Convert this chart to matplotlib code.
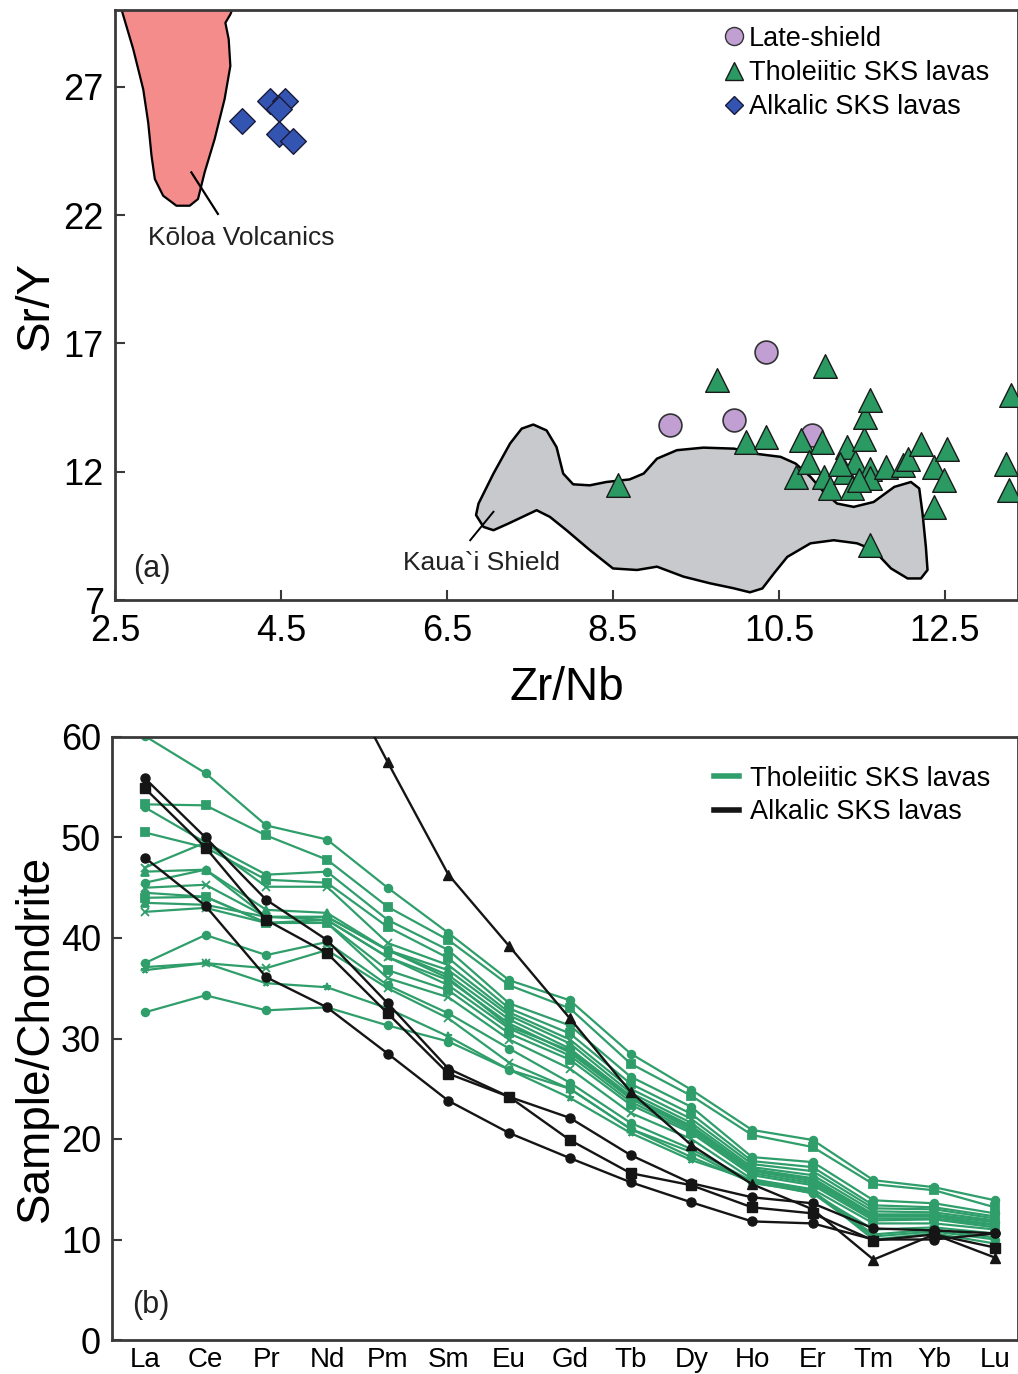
#!/usr/bin/env python3
# Sr/Y vs Zr/Nb (a) and REE patterns normalised to chondrite (b)
import matplotlib
matplotlib.use('Agg')
import matplotlib.pyplot as plt
from matplotlib.patches import Polygon
from matplotlib.lines import Line2D

plt.rcParams['font.family'] = ['Liberation Sans', 'DejaVu Sans']

# ---- panel (a) data ----
late_x = [10.34, 9.19, 9.96, 10.90]
late_y = [16.66, 13.84, 14.00, 13.42]

thol_x = [8.56, 9.75, 11.06, 10.10, 10.34, 10.76, 11.02, 10.70, 10.86, 11.04, 11.12,
          11.32, 11.30, 11.38, 11.42, 11.52, 11.54, 11.60, 11.60, 11.60, 11.79, 11.99,
          12.05, 12.21, 12.37, 12.53, 12.49, 12.37, 11.60, 13.29, 13.23, 13.27, 11.24,
          11.46]
thol_y = [11.47, 15.56, 16.14, 13.16, 13.36, 13.23, 13.16, 11.80, 12.38, 11.80, 11.35,
          12.97, 12.00, 11.35, 12.38, 13.29, 14.13, 14.78, 12.12, 11.74, 12.19, 12.25,
          12.51, 13.10, 12.19, 12.90, 11.67, 10.63, 9.14, 14.98, 12.32, 11.28, 12.32,
          11.67]

alk_x = [4.03, 4.37, 4.55, 4.47, 4.47, 4.65]
alk_y = [25.68, 26.46, 26.46, 26.13, 25.16, 24.90]

koloa_x = [2.58, 2.72, 2.84, 2.90, 2.94, 2.98, 3.08, 3.24, 3.40, 3.50, 3.58, 3.70,
           3.82, 3.89, 3.87, 3.83, 3.89, 3.91]
koloa_y = [30.0, 28.47, 26.91, 25.61, 24.32, 23.41, 22.76, 22.37, 22.37, 22.63, 23.67,
           24.96, 26.52, 27.82, 28.86, 29.50, 29.83, 30.0]

kauai_x = [6.85, 6.88, 7.06, 7.26, 7.40, 7.54, 7.70, 7.82, 7.90, 8.02, 8.22, 8.42,
           8.70, 8.87, 9.03, 9.27, 9.59, 9.96, 10.20, 10.52, 10.70, 10.88, 11.04, 11.20,
           11.40, 11.64, 11.89, 12.09, 12.19, 12.23, 12.27, 12.29, 12.21, 12.05, 11.85,
           11.64, 11.44, 11.16, 10.88, 10.60, 10.44, 10.30, 10.15, 9.95, 9.67, 9.35,
           9.03, 8.79, 8.50, 8.22, 7.94, 7.74, 7.58, 7.24, 7.06, 6.94]
kauai_y = [10.31, 10.76, 11.93, 13.10, 13.68, 13.84, 13.61, 12.96, 11.93, 11.51, 11.47,
           11.60, 11.70, 11.93, 12.51, 12.84, 12.94, 12.90, 12.71, 12.58, 12.32, 11.80,
           11.21, 10.76, 10.63, 10.82, 11.41, 11.60, 11.35, 10.37, 9.07, 8.17, 7.84,
           7.84, 8.23, 8.95, 9.21, 9.33, 9.21, 8.68, 8.04, 7.45, 7.30, 7.46, 7.65, 7.91,
           8.30, 8.17, 8.23, 8.95, 9.72, 10.24, 10.50, 9.98, 9.72, 9.85]

# ---- panel (b) data ----
ree = ['La', 'Ce', 'Pr', 'Nd', 'Pm', 'Sm', 'Eu', 'Gd', 'Tb', 'Dy', 'Ho', 'Er', 'Tm', 'Yb', 'Lu']

thol_ree = [
    [60.1, 56.4, 51.2, 49.8, 45.0, 40.5, 35.8, 33.8, 28.5, 24.9, 20.9, 19.9, 15.9, 15.2, 13.9],
    [53.3, 53.2, 50.2, 47.8, 43.1, 39.8, 35.3, 33.0, 27.5, 24.3, 20.4, 19.2, 15.5, 14.9, 13.2],
    [53.0, 49.5, 46.3, 46.6, 41.8, 38.8, 33.5, 31.3, 26.2, 23.2, 18.2, 17.7, 13.9, 13.6, 12.6],
    [50.5, 49.0, 45.8, 45.5, 41.1, 38.0, 33.0, 30.5, 25.5, 22.5, 17.8, 17.2, 13.4, 13.2, 12.3],
    [47.0, 49.5, 45.1, 45.1, 39.5, 37.3, 32.6, 29.9, 25.0, 22.0, 17.5, 16.8, 13.1, 13.0, 12.1],
    [46.6, 46.8, 42.8, 42.5, 38.8, 36.8, 32.3, 29.5, 24.6, 21.6, 17.2, 16.4, 12.8, 12.7, 11.9],
    [45.5, 46.8, 42.1, 42.1, 38.8, 36.3, 31.9, 29.0, 24.3, 21.3, 17.0, 16.1, 12.5, 12.5, 11.7],
    [45.0, 45.3, 42.1, 41.8, 38.1, 35.8, 31.5, 28.6, 24.0, 21.0, 16.8, 15.8, 12.3, 12.3, 11.5],
    [44.5, 44.1, 41.5, 41.8, 38.1, 35.3, 31.0, 28.3, 23.7, 20.8, 16.6, 15.6, 12.1, 12.1, 11.4],
    [44.0, 44.1, 41.5, 41.5, 36.8, 34.8, 30.5, 27.9, 23.4, 20.6, 16.4, 15.4, 11.9, 12.0, 11.2],
    [43.5, 43.3, 42.1, 42.1, 38.8, 36.0, 31.2, 28.8, 24.1, 21.2, 16.9, 16.0, 12.4, 12.4, 11.8],
    [42.6, 43.0, 41.5, 41.5, 36.0, 34.1, 29.9, 27.0, 22.6, 20.0, 16.0, 15.0, 11.6, 11.6, 11.0],
    [37.5, 40.3, 38.3, 39.6, 35.3, 32.5, 29.0, 25.6, 21.6, 19.0, 15.8, 14.6, 11.0, 11.2, 10.6],
    [37.1, 37.5, 37.0, 38.8, 35.0, 32.0, 27.6, 25.0, 21.0, 18.7, 15.6, 14.8, 10.5, 11.0, 10.2],
    [36.8, 37.5, 35.5, 35.1, 33.0, 30.2, 26.9, 24.1, 20.6, 17.9, 15.9, 14.8, 10.0, 10.6, 9.6],
    [32.6, 34.3, 32.8, 33.1, 31.3, 29.7, 26.9, 25.0, 21.0, 18.2, 15.7, 14.6, 10.3, 10.8, 10.0],
]
thol_marks = ['o', 's', 'o', 's', 'x', '^', 'o', 'x', '*', 's', '^', 'x', 'o', 'x', '*', 'o']

alk_ree = [
    [55.9, 50.0, 43.8, 39.8, 33.5, 27.0, 24.2, 22.1, 18.4, 15.6, 14.2, 13.6, 11.1, 10.9, 10.6],
    [54.9, 49.0, 41.8, 38.5, 32.5, 26.5, 24.2, 19.9, 16.6, 15.4, 13.2, 12.6, 9.9, 10.5, 9.2],
    [48.0, 43.2, 36.1, 33.1, 28.5, 23.8, 20.6, 18.1, 15.7, 13.7, 11.8, 11.6, 10.0, 10.0, 10.6],
    [100.0, 90.0, 80.0, 69.0, 57.5, 46.3, 39.2, 32.0, 24.7, 19.4, 15.5, 13.0, 8.0, 10.5, 8.2],
]
alk_marks = ['o', 's', 'o', '^']

GREEN = '#2f9e6a'
SPINE = '#3a3a3a'

fig = plt.figure(figsize=(10.18, 13.74), dpi=100)

# ---------------- (a) ----------------
ax = fig.add_axes([115 / 1018, 1 - 600 / 1374, 1 - 115 / 1018, 590 / 1374])
ax.add_patch(Polygon(list(zip(koloa_x, koloa_y)), closed=True, fc='#f48c8c', ec='black', lw=1.6,
                     joinstyle='round', zorder=1))
ax.add_patch(Polygon(list(zip(kauai_x, kauai_y)), closed=True, fc='#c8c9cc', ec='black', lw=1.8,
                     joinstyle='round', zorder=1))
ax.plot([3.42, 3.74], [23.67, 22.05], color='black', lw=1.6, zorder=2)
ax.plot([6.78, 7.06], [9.33, 10.44], color='black', lw=1.4, zorder=2)
ax.text(4.02, 21.1, 'Kōloa Volcanics', fontsize=19, color='#222222', ha='center', va='center')
ax.text(6.92, 8.45, 'Kaua`i Shield', fontsize=19, color='#222222', ha='center', va='center')
ax.text(2.95, 8.2, '(a)', fontsize=22, color='#222222', ha='center', va='center')

ax.scatter(late_x, late_y, s=270, marker='o', fc='#c19fd3', ec='#333333', lw=1.2, zorder=3)
ax.scatter(thol_x, thol_y, s=290, marker='^', fc='#2a9a62', ec='#1a1a1a', lw=1.0, zorder=4)
ax.scatter(alk_x, alk_y, s=170, marker='D', fc='#3354b0', ec='#1a1a3a', lw=1.0, zorder=4)

ax.set_xlim(2.5, 13.38)
ax.set_ylim(7, 30)
ax.set_xticks([2.5, 4.5, 6.5, 8.5, 10.5, 12.5])
ax.set_xticklabels(['2.5', '4.5', '6.5', '8.5', '10.5', '12.5'])
ax.set_yticks([7, 12, 17, 22, 27])
ax.tick_params(direction='in', length=7, width=1.5, color=SPINE, labelsize=26, pad=8)
ax.tick_params(axis='x', pad=10)
ax.set_xlabel('Zr/Nb', fontsize=33, labelpad=12)
ax.set_ylabel('Sr/Y', fontsize=33, labelpad=4)
for sp in ax.spines.values():
    sp.set_color(SPINE)
    sp.set_linewidth(2)

h_a = [Line2D([], [], ls='none', marker='o', ms=13, mfc='#c19fd3', mec='#333333'),
       Line2D([], [], ls='none', marker='^', ms=13, mfc='#2a9a62', mec='#1a1a1a'),
       Line2D([], [], ls='none', marker='D', ms=9, mfc='#3354b0', mec='#1a1a3a')]
ax.legend(h_a, ['Late-shield', 'Tholeiitic SKS lavas', 'Alkalic SKS lavas'],
          loc='upper left', bbox_to_anchor=(0.675, 0.973), frameon=False, fontsize=19.5,
          handlelength=0.7, handletextpad=0.2, labelspacing=0.3, borderpad=0, borderaxespad=0)

# ---------------- (b) ----------------
bx = fig.add_axes([112 / 1018, 1 - 1340 / 1374, 1 - 112 / 1018, 603 / 1374])
xs = list(range(len(ree)))
for vals, m in zip(thol_ree, thol_marks):
    bx.plot(xs, vals, color=GREEN, lw=1.6, marker=m, ms=5.5, mew=1.3, zorder=2)
for vals, m in zip(alk_ree, alk_marks):
    bx.plot(xs, vals, color='#151515', lw=1.7, marker=m, ms=6.5, zorder=3)

bx.set_xlim(-0.54, 14.38)
bx.set_ylim(0, 60)
bx.set_xticks(xs)
bx.set_xticklabels(ree)
bx.set_yticks(range(0, 61, 10))
bx.tick_params(axis='y', direction='in', length=7, width=1.5, color=SPINE, labelsize=26, pad=8)
bx.tick_params(axis='x', length=0, labelsize=20, pad=5)
bx.set_ylabel('Sample/Chondrite', fontsize=33, labelpad=2)
bx.text(0.1, 3.5, '(b)', fontsize=22, color='#222222', ha='center', va='center')
for sp in bx.spines.values():
    sp.set_color(SPINE)
    sp.set_linewidth(2)

h_b = [Line2D([], [], color=GREEN, lw=4), Line2D([], [], color='#151515', lw=4)]
bx.legend(h_b, ['Tholeiitic SKS lavas', 'Alkalic SKS lavas'],
          loc='upper left', bbox_to_anchor=(0.665, 0.952), frameon=False, fontsize=19.5,
          handlelength=0.9, handletextpad=0.4, labelspacing=0.27, borderpad=0, borderaxespad=0)

fig.savefig('out.png', dpi=100)
